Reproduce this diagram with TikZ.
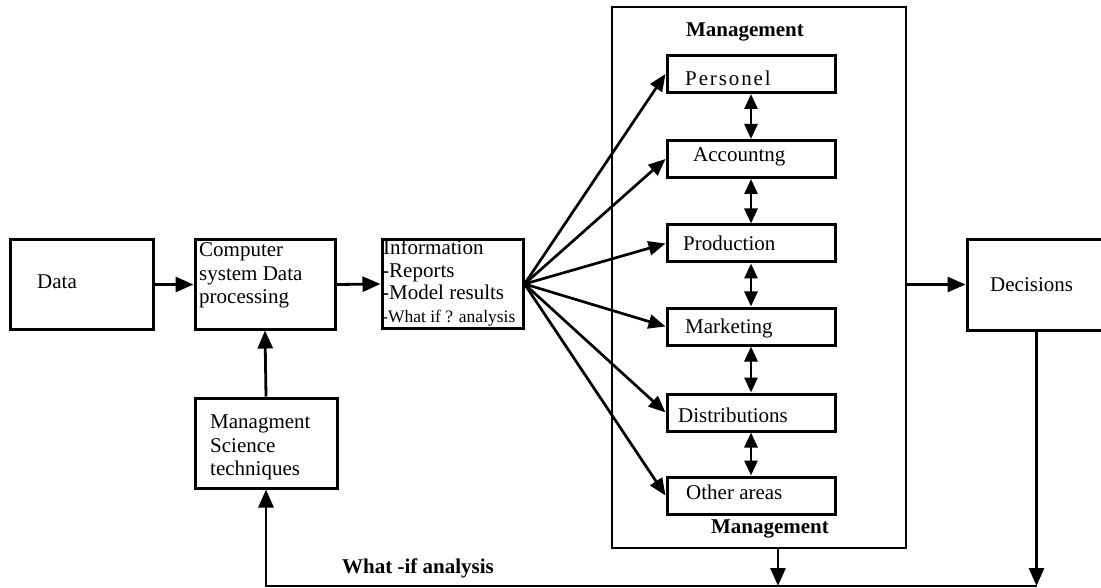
\documentclass[tikz,border=0pt]{standalone}
\usepackage{fontspec}
\setmainfont{Liberation Serif}
\usetikzlibrary{arrows.meta}
\begin{document}
\begin{tikzpicture}[x=1pt,y=-1pt,
  box/.style={draw, line width=3pt, inner sep=0pt},
  ibox/.style={draw, line width=3pt, inner sep=0pt, minimum width=168pt, minimum height=37pt},
  txt/.style={anchor=base west, inner sep=0pt, font=\fontsize{21}{23.5}\selectfont},
  stxt/.style={anchor=base west, inner sep=0pt, font=\fontsize{17.5}{20}\selectfont},
  btxt/.style={anchor=base, inner sep=0pt, font=\fontsize{21}{23.5}\selectfont\bfseries},
  arr/.style={line width=2.8pt, -{Triangle[length=18pt,width=15pt]}},
  farr/.style={line width=2.7pt, -{Triangle[length=17pt,width=14pt]}},
  darr/.style={line width=2.8pt, {Triangle[length=15pt,width=13pt]}-{Triangle[length=15pt,width=13pt]}},
  ln/.style={line width=2.8pt}]
\useasboundingbox (0,0) rectangle (1101,588);

% main boxes
\node[box, minimum width=143pt, minimum height=89pt] (data) at (81.5,284.5) {};
\node[box, minimum width=140pt, minimum height=89pt] (comp) at (265,284.5) {};
\node[box, minimum width=141pt, minimum height=88pt] (info) at (452.5,284) {};
\node[box, minimum width=142pt, minimum height=90pt] (ms) at (266,443) {};
\node[box, minimum width=139pt, minimum height=90pt] (dec) at (1036.5,285) {};
\node[draw, line width=2.8pt, inner sep=0pt, minimum width=294pt, minimum height=541pt] (big) at (759,277.5) {};

% inner boxes
\node[ibox] (pers) at (751,74) {};
\node[ibox] (acc) at (751,159) {};
\node[ibox] (prod) at (751,243.5) {};
\node[ibox] (mark) at (751,326.5) {};
\node[ibox] (dist) at (751,412.5) {};
\node[ibox] (oth) at (751,495.5) {};

% texts
\node[txt] (tdata) at (37,289) {Data};
\node[txt] (tc1) at (199,257) {Computer};
\node[txt] (tc2) at (199,280.5) {system Data};
\node[txt] (tc3) at (199,304) {processing};
\node[txt] (ti1) at (383,255) {Information};
\node[txt] (ti2) at (382,277.5) {-Reports};
\node[txt] (ti3) at (382,300) {-Model results};
\node[stxt] (ti4) at (382,322) {-What if ? analysis};
\node[txt] (tm1) at (210,428) {Managment};
\node[txt] (tm2) at (210,452) {Science};
\node[txt] (tm3) at (210,475) {techniques};
\node[txt] (tdec) at (990,291) {Decisions};
\node[txt] (tpers) at (685,86) {\addfontfeature{LetterSpace=9}Personel};
\node[txt] (tacc) at (693,162) {Accountng};
\node[txt] (tprod) at (683,251) {Production};
\node[txt] (tmark) at (685,333) {Marketing};
\node[txt] (tdist) at (678,422) {Distributions};
\node[txt] (toth) at (686,499) {Other areas};
\node[btxt] (mtop) at (745,37) {Management};
\node[btxt] (mbot) at (770,533) {Management};
\node[btxt, anchor=base west] (wif) at (342,573) {What -if analysis};

% main flow
\draw[arr] (data.east) -- (comp.west);
\draw[arr] (comp.east) -- (info.west);
\draw[arr] (ms.north) -- (comp.south);

% fan
\foreach \t in {pers,acc,prod,mark,dist,oth}
  \draw[farr] (info.east) -- (\t.west);

% double arrows
\draw[darr] (pers.south) -- (acc.north);
\draw[darr] (acc.south) -- (prod.north);
\draw[darr] (prod.south) -- (mark.north);
\draw[darr] (mark.south) -- (dist.north);
\draw[darr] (dist.south) -- (oth.north);

% to decisions
\draw[arr] (big.east |- data.east) -- (dec.west |- data.east);

% feedback loop
\coordinate (mb) at (778,586);
\coordinate (rb) at (dec.south |- mb);
\draw[arr] (big.south -| mb) -- (mb);
\draw[arr] (dec.south) -- (rb);
\draw[arr] (rb) -| (ms.south);
\end{tikzpicture}
\end{document}
